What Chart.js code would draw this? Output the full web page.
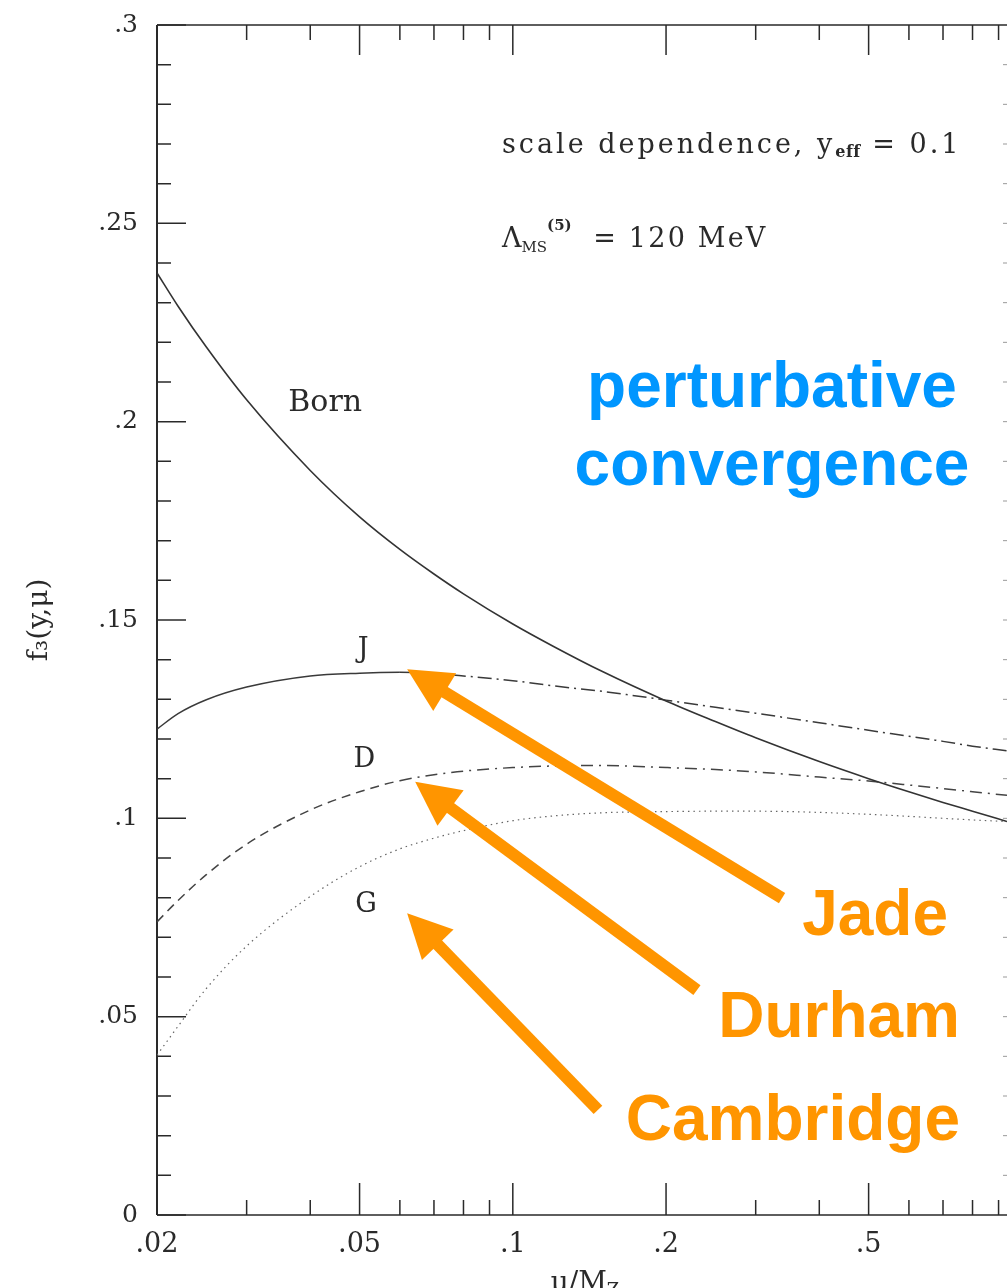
<!DOCTYPE html>
<html>
<head>
<meta charset="utf-8">
<script src="https://cdn.jsdelivr.net/npm/chart.js@4.4.1/dist/chart.umd.min.js"></script>
<style>
  html, body { margin: 0; padding: 0; background: #fff; overflow: hidden; }
  canvas { display: block; }
</style>
</head>
<body>
<canvas id="chart" width="1007" height="1288"></canvas>
<script>
// f3(y, mu) at y_eff = 0.1 versus the renormalisation scale mu / M_Z
const MU = [0.02, 0.022, 0.025, 0.03, 0.04, 0.05, 0.06, 0.07, 0.08, 0.1, 0.12,
            0.15, 0.2, 0.25, 0.3, 0.4, 0.5, 0.6, 0.7, 0.8, 0.935];
const BORN = [0.2375, 0.2291, 0.2188, 0.2055, 0.1877, 0.1760, 0.1678, 0.1616, 0.1566, 0.1490, 0.1434,
              0.1370, 0.1296, 0.1244, 0.1203, 0.1143, 0.1100, 0.1067, 0.1040, 0.1018, 0.0992];
const JADE = [0.1225, 0.1264, 0.1299, 0.1331, 0.1359, 0.1366, 0.1368, 0.1365, 0.1359, 0.1347, 0.1334,
              0.1320, 0.1298, 0.1280, 0.1265, 0.1241, 0.1222, 0.1207, 0.1194, 0.1182, 0.1170];
const DURHAM = [0.0739, 0.0793, 0.0858, 0.0935, 0.1021, 0.1067, 0.1095, 0.1110, 0.1119, 0.1128, 0.1132,
                0.1133, 0.1128, 0.1123, 0.1117, 0.1104, 0.1094, 0.1084, 0.1075, 0.1067, 0.1058];
const CAMBRIDGE = [0.0403, 0.0476, 0.0571, 0.0678, 0.0803, 0.0878, 0.0923, 0.0950, 0.0969, 0.0994, 0.1006,
                   0.1014, 0.1017, 0.1018, 0.1018, 0.1015, 0.1010, 0.1005, 0.1000, 0.0996, 0.0992];

const X_LABELS = [0.02, 0.05, 0.1, 0.2, 0.5];
const X_MINOR = [0.03, 0.04, 0.06, 0.07, 0.08, 0.09, 0.3, 0.4, 0.6, 0.7, 0.8, 0.9];
const X_MIN = 0.02;
const X_MAX = 0.935;

// arrows from the jet-algorithm names to their curves, in (mu, f3) units
const ARROWS = [
  { from: [0.338, 0.0799], to: [0.062, 0.1376] },
  { from: [0.230, 0.0567], to: [0.0643, 0.1092] },
  { from: [0.147, 0.0265], to: [0.062, 0.0761] },
];

const SERIF = '"DejaVu Serif", serif';
const SANS = '"Liberation Sans", Arial, sans-serif';
const INK = "#2a2a2a";
const ORANGE = "#FF9500";
const BLUE = "#0096FF";

function pts(ys) {
  return MU.map((x, i) => ({ x, y: ys[i] }));
}

function fmtTick(v) {
  if (Math.abs(v) < 1e-9) return "0";
  return (+v.toFixed(2)).toString().replace(/^0/, "");
}

// draws a run of text pieces (for sub/superscripts) left to right
function drawRuns(ctx, x, y, runs) {
  ctx.save();
  ctx.textBaseline = "alphabetic";
  ctx.textAlign = "left";
  for (const r of runs) {
    ctx.letterSpacing = (r.sp || 0) + "px";
    ctx.font = (r.weight || "normal") + " " + r.size + "px " + SERIF;
    ctx.fillText(r.text, x, y + (r.dy || 0));
    x += ctx.measureText(r.text).width;
  }
  ctx.restore();
}

// frame with inward ticks on all four sides
const frameTicks = {
  id: "frameTicks",
  beforeDatasetsDraw(chart) {
    const { ctx, chartArea: a, scales } = chart;
    const xs = scales.x, ys = scales.y;
    ctx.save();
    ctx.strokeStyle = INK;
    ctx.lineWidth = 2;
    ctx.beginPath();
    ctx.moveTo(a.left, a.top);
    ctx.lineTo(a.left, a.bottom);
    ctx.stroke();
    ctx.lineWidth = 1.5;
    ctx.beginPath();
    ctx.moveTo(a.left, a.top);
    ctx.lineTo(a.right, a.top);
    ctx.moveTo(a.left, a.bottom);
    ctx.lineTo(a.right, a.bottom);
    ctx.stroke();

    ctx.beginPath();
    for (let k = 0; k <= 30; k++) {
      const py = ys.getPixelForValue(k / 100);
      const len = k % 5 === 0 ? 29 : 14;
      ctx.moveTo(a.left, py);
      ctx.lineTo(a.left + len, py);
    }
    for (const v of X_LABELS.concat(X_MINOR)) {
      const px = xs.getPixelForValue(v);
      const major = X_LABELS.includes(v);
      ctx.moveTo(px, a.top);
      ctx.lineTo(px, a.top + (major ? 30 : 15));
      ctx.moveTo(px, a.bottom);
      ctx.lineTo(px, a.bottom - (major ? 32 : 15));
    }
    ctx.stroke();

    ctx.strokeStyle = "#999";
    ctx.lineWidth = 1;
    ctx.beginPath();
    for (let k = 1; k < 30; k++) {
      const py = ys.getPixelForValue(k / 100);
      ctx.moveTo(a.right, py);
      ctx.lineTo(a.right - 4, py);
    }
    ctx.stroke();
    ctx.restore();
  },
  afterDraw(chart) {
    const { ctx, scales } = chart;
    const xs = scales.x, ys = scales.y;
    const P = (mu, f) => [xs.getPixelForValue(mu), ys.getPixelForValue(f)];
    ctx.save();
    ctx.fillStyle = INK;

    // curve names
    ctx.textAlign = "center";
    ctx.textBaseline = "middle";
    ctx.font = "30px " + SERIF;
    let [px, py] = P(0.0428, 0.2047);
    ctx.fillText("Born", px, py);
    ctx.font = "27px " + SERIF;
    [px, py] = P(0.0508, 0.1424); ctx.fillText("J", px, py);
    [px, py] = P(0.0511, 0.1147); ctx.fillText("D", px, py);
    [px, py] = P(0.0515, 0.0781); ctx.fillText("G", px, py);

    // parameter captions
    [px, py] = P(0.0952, 0.2677);
    drawRuns(ctx, px, py, [
      { text: "scale dependence, y", size: 27, sp: 3 },
      { text: "eff", size: 16, weight: "bold", dy: 4, sp: 0.5 },
      { text: " = 0.1", size: 27, sp: 3 },
    ]);
    [px, py] = P(0.0952, 0.2440);
    drawRuns(ctx, px, py, [
      { text: "Λ", size: 27 },
      { text: "MS", size: 15, dy: 5 },
      { text: "(5)", size: 15, weight: "bold", dy: -17 },
      { text: "  = 120 MeV", size: 27, sp: 2.2 },
    ]);

    // x-axis title mu / M_Z
    [px, py] = P(0.1186, 0);
    drawRuns(ctx, px, py + 76, [
      { text: "μ/M", size: 28 },
      { text: "Z", size: 18, dy: 5 },
    ]);

    // highlighted labels
    ctx.textBaseline = "alphabetic";
    ctx.fillStyle = BLUE;
    ctx.textAlign = "center";
    ctx.font = "bold 64px " + SANS;
    [px, py] = P(0.323, 0.2037); ctx.fillText("perturbative", px, py);
    [px, py] = P(0.323, 0.1840); ctx.fillText("convergence", px, py);

    ctx.fillStyle = ORANGE;
    ctx.textAlign = "right";
    [px, py] = P(0.716, 0.0706); ctx.fillText("Jade", px, py);
    [px, py] = P(0.756, 0.0449); ctx.fillText("Durham", px, py);
    [px, py] = P(0.756, 0.0189); ctx.fillText("Cambridge", px, py);

    // arrows
    ctx.strokeStyle = ORANGE;
    ctx.lineWidth = 12;
    ctx.lineCap = "butt";
    for (const ar of ARROWS) {
      const [x0, y0] = P(ar.from[0], ar.from[1]);
      const [x1, y1] = P(ar.to[0], ar.to[1]);
      const ang = Math.atan2(y1 - y0, x1 - x0);
      const head = 44, half = 22;
      const bx = x1 - head * Math.cos(ang), by = y1 - head * Math.sin(ang);
      ctx.beginPath();
      ctx.moveTo(x0, y0);
      ctx.lineTo(bx + 2 * Math.cos(ang), by + 2 * Math.sin(ang));
      ctx.stroke();
      ctx.beginPath();
      ctx.moveTo(x1, y1);
      ctx.lineTo(bx + half * Math.sin(ang), by - half * Math.cos(ang));
      ctx.lineTo(bx - half * Math.sin(ang), by + half * Math.cos(ang));
      ctx.closePath();
      ctx.fill();
    }
    ctx.restore();
  },
};

const afterSwitch = (x0, dash) => (c) => (c.p0.parsed.x >= x0 - 1e-9 ? dash : undefined);

new Chart(document.getElementById("chart"), {
  type: "line",
  data: {
    datasets: [
      { label: "Born", data: pts(BORN), borderColor: "#333", borderWidth: 1.6 },
      {
        label: "J", data: pts(JADE), borderColor: "#3a3a3a", borderWidth: 1.5,
        segment: { borderDash: afterSwitch(0.06, [14, 5, 2, 5]) },
      },
      {
        label: "D", data: pts(DURHAM), borderColor: "#444", borderWidth: 1.5,
        borderDash: [9, 6],
        segment: { borderDash: afterSwitch(0.06, [12, 6, 2, 6]) },
      },
      { label: "G", data: pts(CAMBRIDGE), borderColor: "#666", borderWidth: 1.2, borderDash: [1.5, 4] },
    ],
  },
  options: {
    responsive: false,
    animation: false,
    devicePixelRatio: 1,
    layout: { padding: { top: 25, right: 0, left: 0, bottom: 0 } },
    elements: {
      point: { radius: 0, hoverRadius: 0 },
      line: { cubicInterpolationMode: "monotone", fill: false },
    },
    plugins: { legend: { display: false }, tooltip: { enabled: false } },
    scales: {
      x: {
        type: "logarithmic",
        min: X_MIN,
        max: X_MAX,
        grid: { display: false, drawTicks: false },
        border: { display: false },
        afterBuildTicks: (s) => { s.ticks = X_LABELS.map((v) => ({ value: v })); },
        afterFit: (s) => { s.height = 73; s.paddingLeft = 0; s.paddingRight = 0; },
        ticks: {
          autoSkip: false,
          maxRotation: 0,
          padding: 14,
          color: INK,
          font: { family: SERIF, size: 27 },
          callback: (v) => fmtTick(v),
        },
      },
      y: {
        min: 0,
        max: 0.3,
        grid: { display: false, drawTicks: false },
        border: { display: false },
        afterFit: (s) => { s.width = 157; s.paddingTop = 0; s.paddingBottom = 0; },
        ticks: {
          stepSize: 0.05,
          padding: 19,
          color: INK,
          font: { family: SERIF, size: 25 },
          callback: (v) => fmtTick(v),
        },
        title: {
          display: true,
          text: "f₃(y,μ)",
          color: INK,
          font: { family: SERIF, size: 28 },
          padding: { top: 23, bottom: 0 },
        },
      },
    },
  },
  plugins: [frameTicks],
});
</script>
</body>
</html>
